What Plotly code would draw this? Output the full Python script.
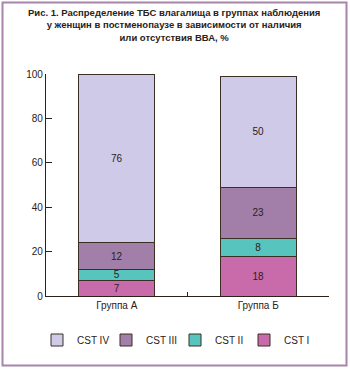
import plotly.graph_objects as go

# Groups on the x axis and the share (%) of each community state type
groups = ["Группа А", "Группа Б"]
series_names = ["CST I", "CST II", "CST III", "CST IV"]
cst_i = [7, 18]
cst_ii = [5, 8]
cst_iii = [12, 23]
cst_iv = [76, 50]
y_ticks = [0, 20, 40, 60, 80, 100]

title_text = ("Рис. 1. Распределение ТБС влагалища в группах наблюдения<br>"
              "у женщин в постменопаузе в зависимости от наличия<br>"
              "или отсутствия ВВА, %")

colors = {"CST I": "#C96BAB", "CST II": "#57C4BE", "CST III": "#A27FA8", "CST IV": "#CFCAE8"}
ink = "#2B2118"
body_font = "Liberation Sans"

W, H = 350, 369
ml, mr, mt, mb = 46, 21, 74, 73
pw, ph = W - ml - mr, H - mt - mb

fig = go.Figure()
for name, vals in zip(series_names, [cst_i, cst_ii, cst_iii, cst_iv]):
    fig.add_trace(go.Bar(
        name=name, x=groups, y=vals,
        text=[str(v) for v in vals], textposition="inside",
        insidetextanchor="middle", textangle=0, constraintext="none",
        textfont=dict(family=body_font, size=10, color=ink),
        marker=dict(color=colors[name], line=dict(color="#3B2E25", width=1)),
        width=0.54, hoverinfo="skip",
    ))

def px_x(p):
    return (p - ml) / pw

def px_y(p):
    return (H - mb - p) / ph

fig.update_layout(
    width=W, height=H, barmode="stack",
    margin=dict(l=ml, r=mr, t=mt, b=mb, pad=0),
    paper_bgcolor="white", plot_bgcolor="white",
    font=dict(family=body_font, size=10, color=ink),
    showlegend=True,
    legend=dict(orientation="h", traceorder="reversed",
                x=px_x(37), xanchor="left", y=px_y(340), yanchor="middle",
                font=dict(family=body_font, size=10, color=ink),
                itemwidth=30, tracegroupgap=0, entrywidth=24),
    annotations=[dict(
        text=title_text, xref="paper", yref="paper",
        x=px_x(W / 2 - 1), y=px_y(25), xanchor="center", yanchor="middle",
        showarrow=False, align="center",
        font=dict(family=body_font, size=9.5, color=ink, weight="bold"),
    )],
    shapes=[dict(type="rect", xref="paper", yref="paper",
                 x0=px_x(2.5), x1=px_x(346.5), y0=px_y(365.5), y1=px_y(2.5),
                 line=dict(color="#A784AA", width=2), layer="above")],
)

fig.update_xaxes(
    type="category", range=[-0.5, 1.5],
    showline=True, linecolor=ink, linewidth=1.2,
    ticks="inside", tickson="boundaries", ticklen=4, tickcolor=ink, tickwidth=1,
    showgrid=False, zeroline=False,
    tickfont=dict(family=body_font, size=10, color=ink),
)
fig.update_yaxes(
    range=[0, 100], tickvals=y_ticks,
    showline=True, linecolor=ink, linewidth=1.2,
    ticks="inside", ticklen=6, tickcolor=ink, tickwidth=1,
    showgrid=False, zeroline=False,
    tickfont=dict(family=body_font, size=10, color=ink),
)

fig.write_html("out.html")
